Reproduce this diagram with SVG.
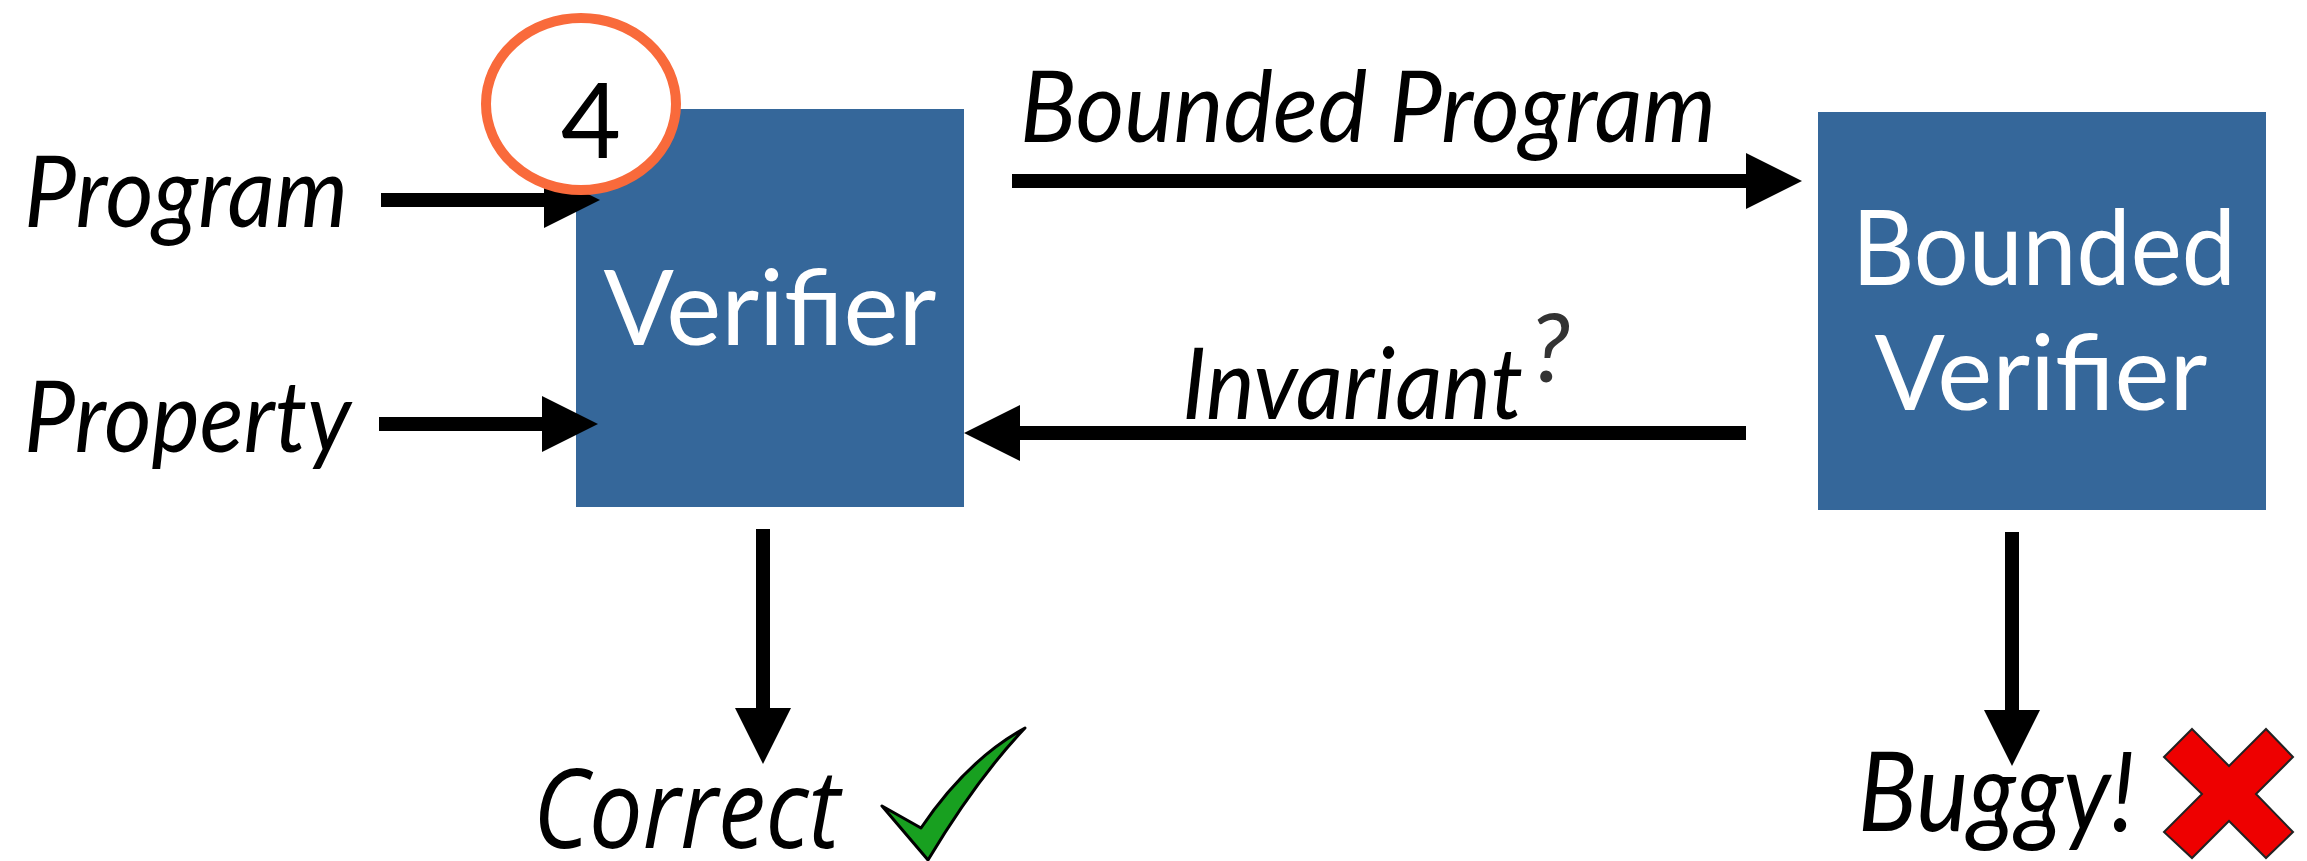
<svg xmlns="http://www.w3.org/2000/svg" width="2307" height="861" viewBox="0 0 2307 861">
  <style>
    .box { fill: #35679a; }
    .label { font-family: Lato, "Open Sans", "Liberation Sans", sans-serif; font-style: italic; fill: #000; }
    .boxtext { font-family: Lato, "Open Sans", "Liberation Sans", sans-serif; fill: #fff; text-anchor: middle; }
    .edge { stroke: #000; stroke-width: 14; fill: none; marker-end: url(#head); }
  </style>
  <defs>
    <marker id="head" markerUnits="userSpaceOnUse" markerWidth="56" markerHeight="56" refX="0" refY="28" orient="auto" overflow="visible">
      <path d="M0,0 L56,28 L0,56 Z" fill="#000"/>
    </marker>
  </defs>

  <rect width="2307" height="861" fill="#fff"/>

  <!-- inputs -->
  <text class="label" x="24" y="227" font-size="100" textLength="324" lengthAdjust="spacingAndGlyphs">Program</text>
  <text class="label" x="24" y="452" font-size="100" textLength="327" lengthAdjust="spacingAndGlyphs">Property</text>

  <!-- nodes -->
  <g id="verifier">
    <rect class="box" x="576" y="109" width="388" height="398"/>
    <text class="boxtext" x="770" y="345" font-size="104" textLength="333" lengthAdjust="spacingAndGlyphs">Verifier</text>
  </g>

  <g id="bounded-verifier">
    <rect class="box" x="1818" y="112" width="448" height="398"/>
    <text class="boxtext" x="2044" y="285" font-size="104" textLength="384" lengthAdjust="spacingAndGlyphs">Bounded</text>
    <text class="boxtext" x="2041" y="410" font-size="104" textLength="333" lengthAdjust="spacingAndGlyphs">Verifier</text>
  </g>

  <!-- connectors -->
  <g id="connectors">
    <line class="edge" x1="381" y1="200" x2="544" y2="200"/>
    <line class="edge" x1="379" y1="424" x2="542" y2="424"/>
    <line class="edge" x1="1012" y1="181" x2="1746" y2="181"/>
    <line class="edge" x1="1746" y1="433" x2="1020" y2="433"/>
    <line class="edge" x1="763" y1="529" x2="763" y2="708"/>
    <line class="edge" x1="2012" y1="532" x2="2012" y2="710"/>
  </g>

  <!-- connector labels -->
  <text class="label" x="1020" y="142" font-size="100" textLength="696" lengthAdjust="spacingAndGlyphs">Bounded Program</text>
  <text class="label" x="1182" y="419" font-size="100" textLength="341" lengthAdjust="spacingAndGlyphs">Invariant</text>
  <text x="1530" y="382" font-family="Lato, 'Open Sans', 'Liberation Sans', sans-serif" font-style="italic" font-size="96" fill="#333">?</text>

  <!-- step badge -->
  <g id="step-badge">
    <ellipse cx="581" cy="104" rx="95" ry="86" fill="#fff" stroke="#f96a3b" stroke-width="10"/>
    <text x="591" y="158" font-family="Lato, 'Open Sans', 'Liberation Sans', sans-serif" font-size="104" text-anchor="middle" fill="#000">4</text>
  </g>

  <!-- outcomes -->
  <g id="correct">
    <text x="533" y="848" font-family="'Open Sans', Lato, 'Liberation Sans', sans-serif" font-style="italic" font-size="110" textLength="307" lengthAdjust="spacingAndGlyphs" fill="#000">Correct</text>
    <path d="M882,806 L921,828 C950,785 985,750 1025,728 C985,770 955,815 928,860 Z" fill="#18a020" stroke="#000" stroke-width="3" stroke-linejoin="round"/>
  </g>

  <g id="buggy">
    <text x="1858" y="831" font-family="Lato, 'Open Sans', 'Liberation Sans', sans-serif" font-style="italic" font-size="110" textLength="277" lengthAdjust="spacingAndGlyphs" fill="#000">Buggy!</text>
    <polygon points="2192,729 2229,766 2266,729 2293,757 2256,794 2293,832 2266,858 2229,821 2192,858 2164,832 2202,794 2164,757" fill="#ee0000" stroke="#222" stroke-width="2"/>
  </g>
</svg>
